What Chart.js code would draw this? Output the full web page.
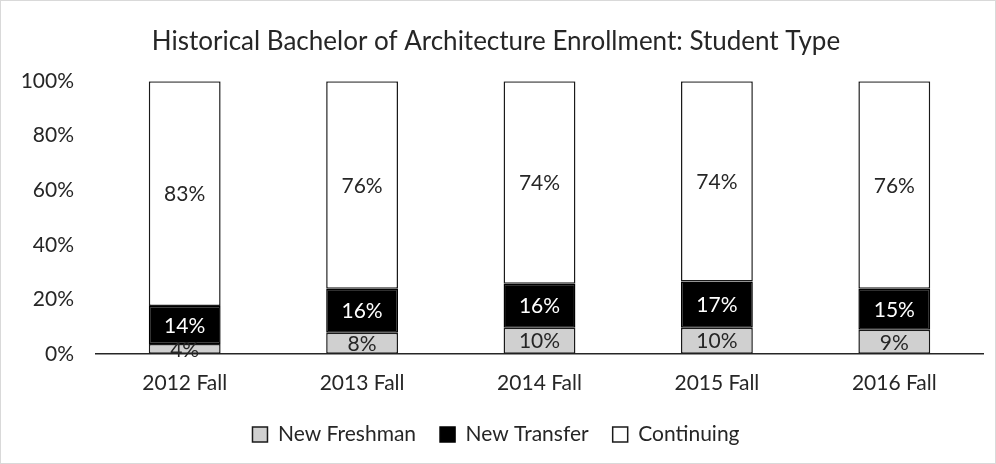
<!DOCTYPE html>
<html>
<head>
<meta charset="utf-8">
<script src="https://cdn.jsdelivr.net/npm/chart.js@4.4.1/dist/chart.umd.min.js"></script>
<style>
  html, body { margin: 0; padding: 0; background: #fff; }
  #wrap { width: 994px; height: 462px; border: 1px solid #d9d9d9; }
</style>
</head>
<body>
<div id="wrap"><canvas id="enroll" width="994" height="462"></canvas></div>
<script>
var years = ["2012 Fall", "2013 Fall", "2014 Fall", "2015 Fall", "2016 Fall"];
var newFreshman = [3.6, 7.7, 9.6, 9.6, 8.8];
var newTransfer = [13.9, 16.2, 16.1, 16.9, 15.1];
var continuing = [82.5, 76.1, 74.3, 73.5, 76.1];
var yTicks = [0, 20, 40, 60, 80, 100];

var fontFam = "Lato, 'Open Sans', sans-serif";

// draws the % label in the middle of each segment
var segLabels = {
    id: 'segLabels',
    afterDatasetsDraw: function(chart) {
        var ctx = chart.ctx;
        ctx.save();
        ctx.font = "21px " + fontFam;
        ctx.textAlign = 'center';
        ctx.textBaseline = 'middle';
        chart.data.datasets.forEach(function(ds, i) {
            var meta = chart.getDatasetMeta(i);
            meta.data.forEach(function(bar, j) {
                var yMid = (bar.y + bar.base) / 2;
                ctx.fillStyle = ds.labelColor;
                ctx.fillText(Math.round(ds.data[j]) + '%', bar.x, yMid + 1);
            });
        });
        ctx.restore();
    }
};

var ctx = document.getElementById('enroll').getContext('2d');
var chart = new Chart(ctx, {
    type: 'bar',
    data: {
        labels: years,
        datasets: [{
            label: 'New Freshman',
            data: newFreshman,
            backgroundColor: '#d0d0d0',
            borderColor: '#1a1a1a',
            borderWidth: 1.5,
            borderSkipped: false,
            labelColor: '#262626'
        }, {
            label: 'New Transfer',
            data: newTransfer,
            backgroundColor: '#000000',
            borderColor: '#000000',
            borderWidth: 1.5,
            borderSkipped: false,
            labelColor: '#ffffff'
        }, {
            label: 'Continuing',
            data: continuing,
            backgroundColor: '#ffffff',
            borderColor: '#1a1a1a',
            borderWidth: 1.5,
            borderSkipped: false,
            labelColor: '#262626'
        }]
    },
    options: {
        responsive: false,
        animation: false,
        categoryPercentage: 1,
        barPercentage: 0.405,
        layout: { padding: { left: 8, right: 12, top: 8, bottom: 8 } },
        plugins: {
            title: {
                display: true,
                text: 'Historical Bachelor of Architecture Enrollment: Student Type',
                color: '#262626',
                font: { family: fontFam, size: 26, weight: 'normal' },
                padding: { top: 17, bottom: 24 }
            },
            legend: {
                position: 'bottom',
                labels: {
                    color: '#262626',
                    font: { family: fontFam, size: 21 },
                    boxWidth: 15,
                    boxHeight: 15,
                    padding: 24
                }
            },
            tooltip: { enabled: false }
        },
        scales: {
            x: {
                stacked: true,
                grid: { display: false, drawTicks: false },
                border: { display: true, color: '#262626', width: 1.5 },
                ticks: { color: '#262626', font: { family: fontFam, size: 21 }, padding: 17 },
                afterFit: function(axis) { axis.height = axis.height - 13; }
            },
            y: {
                stacked: true,
                min: 0,
                max: 100,
                afterBuildTicks: function(axis) {
                    axis.ticks = yTicks.map(function(v) { return { value: v }; });
                },
                afterFit: function(axis) { axis.width = 87; },
                grid: { display: false, drawTicks: false },
                border: { display: false },
                ticks: {
                    color: '#262626',
                    font: { family: fontFam, size: 21 },
                    padding: 22,
                    callback: function(v) { return v + '%'; }
                }
            }
        }
    },
    plugins: [segLabels]
});
</script>
</body>
</html>
